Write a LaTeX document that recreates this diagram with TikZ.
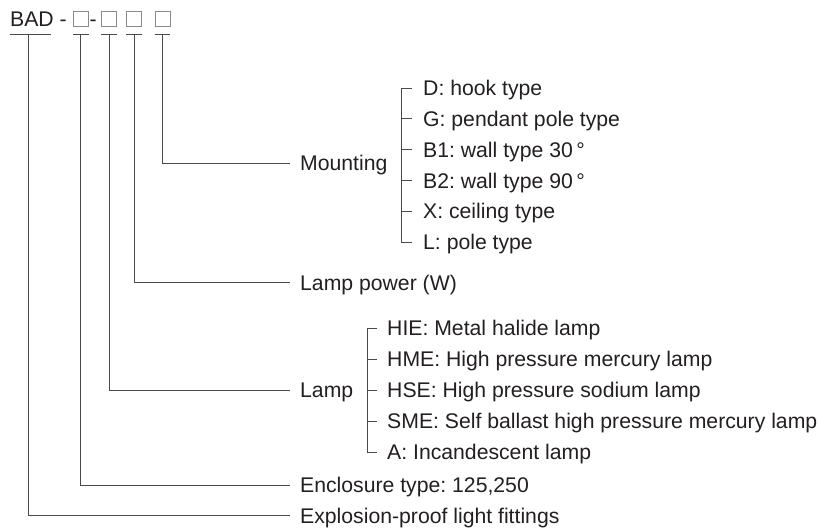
\documentclass[tikz,border=0pt]{standalone}
\usepackage{fontspec}
\setmainfont{Liberation Sans}
\frenchspacing
\definecolor{txt}{HTML}{231F20}
\definecolor{lnc}{HTML}{4A4A4A}
\definecolor{boxc}{HTML}{8A8A8A}
\begin{document}
\begin{tikzpicture}[x=1pt,y=-1pt,
  lbl/.style={anchor=west,inner sep=0pt,text height=15.2pt,text depth=0pt,
    font=\fontsize{21.2}{25}\selectfont\frenchspacing,text=txt},
  ln/.style={draw=lnc,line width=0.9pt},
  phbox/.style={draw=boxc,line width=0.8pt,minimum size=15pt,inner sep=0pt}]
\useasboundingbox (0,0) rectangle (820,531);

% title
\node[lbl] (bad) at (10,19.2) {BAD -};
\node[phbox] (b1) at (80.8,19.2) {};
\node[lbl] (hy) at (89.5,19.2) {-};
\node[phbox] (b2) at (109.2,19.2) {};
\node[phbox] (b3) at (134.2,19.2) {};
\node[phbox] (b4) at (162.5,19.2) {};

% underline ticks
\coordinate (uL) at (10,34.3);
\coordinate (uR) at (50.7,34.3);
\coordinate (u0) at (28.3,34.3);
\draw[ln] (uL) -- (uR);
\foreach \b in {b1,b2,b3,b4}{
  \draw[ln] ([yshift=-7.6pt]\b.south west) -- ([yshift=-7.6pt]\b.south east);
}

% labels
\node[lbl] (mount) at (300,163) {Mounting};
\node[lbl] (power) at (300,282.5) {Lamp power (W)};
\node[lbl] (lamp) at (300,390) {Lamp};
\node[lbl] (encl) at (300,485) {Enclosure type: 125,250};
\node[lbl] (expl) at (300,515.5) {Explosion-proof light fittings};

% mounting items
\node[lbl] (m1) at (423,88) {D: hook type};
\node[lbl] (m2) at (423,118.8) {G: pendant pole type};
\node[lbl] (m3) at (423,149.6) {B1: wall type 30\,°};
\node[lbl] (m4) at (423,180.4) {B2: wall type 90\,°};
\node[lbl] (m5) at (423,211.2) {X: ceiling type};
\node[lbl] (m6) at (423,242) {L: pole type};

% lamp items
\node[lbl] (l1) at (387,328) {HIE: Metal halide lamp};
\node[lbl] (l2) at (387,359) {HME: High pressure mercury lamp};
\node[lbl] (l3) at (387,390) {HSE: High pressure sodium lamp};
\node[lbl] (l4) at (387,421) {SME: Self ballast high pressure mercury lamp};
\node[lbl] (l5) at (387,452) {A: Incandescent lamp};

% connectors from code to labels
\draw[ln] (u0) |- ([xshift=-10pt]expl.west);
\draw[ln] ([yshift=-7.6pt]b1.south) |- ([xshift=-10pt]encl.west);
\draw[ln] ([yshift=-7.6pt]b2.south) |- ([xshift=-10pt]lamp.west);
\draw[ln] ([yshift=-7.6pt]b3.south) |- ([xshift=-10pt]power.west);
\draw[ln] ([yshift=-7.6pt]b4.south) |- ([xshift=-10pt]mount.west);

% mounting bracket
\draw[ln] ([xshift=-11pt]m1.west) -| ([xshift=-22pt]m6.west) -- ([xshift=-11pt]m6.west);
\foreach \m in {m2,m3,m4,m5}{
  \draw[ln] ([xshift=-22pt]\m.west) -- ([xshift=-11pt]\m.west);
}

% lamp bracket
\draw[ln] ([xshift=-10pt]l1.west) -| ([xshift=-20pt]l5.west) -- ([xshift=-10pt]l5.west);
\foreach \l in {l2,l3,l4}{
  \draw[ln] ([xshift=-20pt]\l.west) -- ([xshift=-10pt]\l.west);
}
\end{tikzpicture}
\end{document}
